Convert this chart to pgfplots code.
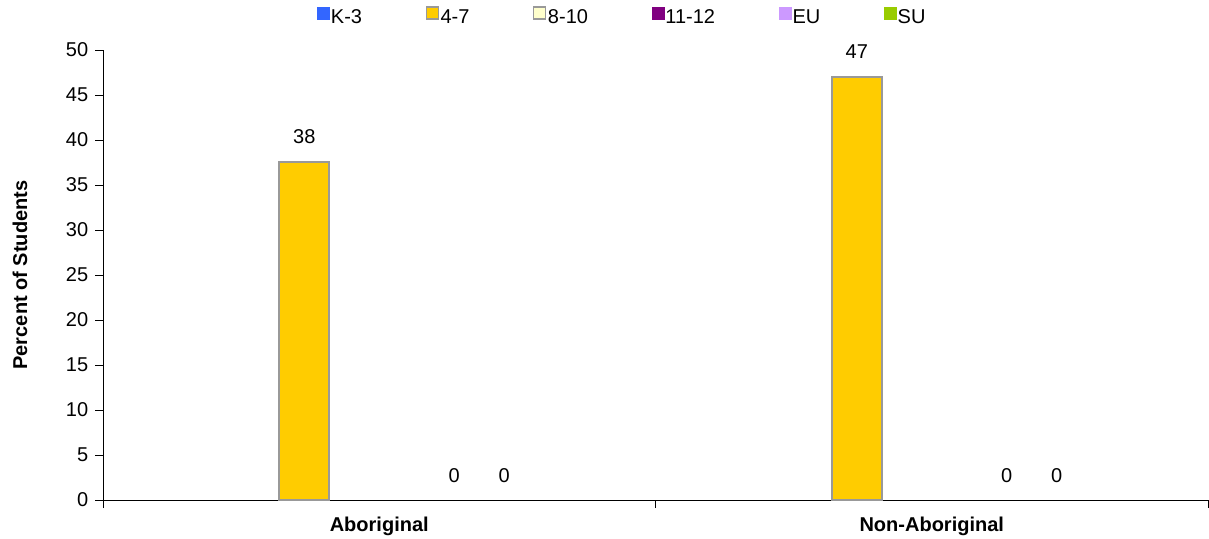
\documentclass[border=0pt]{standalone}
\usepackage{pgfplots}
\pgfplotsset{compat=1.18}
\usepackage{fontspec}
\setmainfont{Liberation Sans}
\definecolor{kthree}{HTML}{3366FF}
\definecolor{fourseven}{HTML}{FFCC00}
\definecolor{eightten}{HTML}{FFFFCC}
\definecolor{eleventwelve}{HTML}{800080}
\definecolor{eucol}{HTML}{CC99FF}
\definecolor{sucol}{HTML}{99CC00}
\definecolor{bordergray}{HTML}{999999}

\begin{document}
\fontsize{20}{24}\selectfont
\begin{tikzpicture}
\begin{axis}[
  name=ax,
  scale only axis, width=1105pt, height=450pt,
  xmin=-0.5, xmax=1.5, ymin=0, ymax=50,
  ybar,
  axis x line=bottom, axis y line=left,
  axis line style={-, line width=0.9pt},
  /pgf/number format/assume math mode=true,
  ytick={0,5,...,50},
  xtick={-0.5,0.5,1.5}, xticklabels={},
  extra x ticks={0,1},
  extra x tick labels={Aboriginal,Non-Aboriginal},
  extra x tick style={major tick length=0pt,
    xticklabel style={font=\bfseries, yshift=-10pt}},
  tick align=outside, major tick length=8pt,
  tick style={black, line width=0.8pt},
  ylabel={\bfseries Percent of Students},
  ylabel style={at={(-0.0751,0.5)}, anchor=center},
  legend columns=6,
  legend style={at={(0.4697,1.0733)}, anchor=center, draw=none, fill=none,
    /tikz/every even column/.append style={column sep=62pt},
    nodes={inner sep=1.5pt}},
  legend image code/.code={\draw[#1] (0pt,-1pt) rectangle (12pt,11pt);},
  nodes near coords,
  /pgf/number format/.cd, fixed, precision=0,
]
\addlegendimage{fill=kthree, draw=kthree}
\addlegendentry{K-3}
\addlegendimage{fill=fourseven, draw=bordergray, line width=1.5pt}
\addlegendentry{4-7}
\addlegendimage{fill=eightten, draw=bordergray, line width=1.5pt}
\addlegendentry{8-10}
\addlegendimage{fill=eleventwelve, draw=eleventwelve}
\addlegendentry{11-12}
\addlegendimage{fill=eucol, draw=eucol}
\addlegendentry{EU}
\addlegendimage{fill=sucol, draw=sucol}
\addlegendentry{SU}

% 4-7
\addplot[forget plot, bar width=0.0905, bar shift=-0.1357,
  fill=fourseven, draw=bordergray, line width=2.2pt,
  every node near coord/.append style={black, inner sep=0pt, yshift=17pt}]
  coordinates {(0,37.6) (1,47)};
% EU
\addplot[forget plot, bar width=0.0905, bar shift=0.1357,
  draw=none, fill=none,
  every node near coord/.append style={black, inner sep=0pt, yshift=17pt}]
  coordinates {(0,0) (1,0)};
% SU
\addplot[forget plot, bar width=0.0905, bar shift=0.2262,
  draw=none, fill=none,
  every node near coord/.append style={black, inner sep=0pt, yshift=17pt}]
  coordinates {(0,0) (1,0)};
\end{axis}
\pgfresetboundingbox
\path[use as bounding box] ([xshift=-103pt,yshift=-38pt]ax.south west)
  rectangle ([xshift=1pt,yshift=50pt]ax.north east);
\end{tikzpicture}
\end{document}
